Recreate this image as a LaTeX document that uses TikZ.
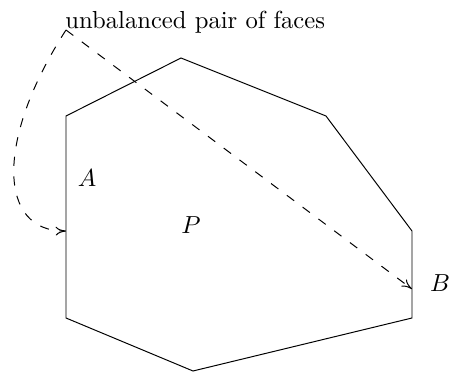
\documentclass[tikz,border=0pt]{standalone}
\usetikzlibrary{arrows.meta}
\begin{document}
\begin{tikzpicture}[x=0.406pt,y=-0.406pt,
  face/.style={draw,line width=0.4pt},
  conn/.style={draw,dash pattern=on 3.7pt off 4.3pt,-{To[length=4.2pt,width=3.6pt]},line width=0.4pt},
  lbl/.style={inner sep=0pt}]
\useasboundingbox (0,0) rectangle (449,372);
\coordinate (v1) at (66,116);
\coordinate (v2) at (181,58);
\coordinate (v3) at (326,116);
\coordinate (v4) at (412,231);
\coordinate (v5) at (412,318);
\coordinate (v6) at (193,371);
\coordinate (v7) at (66,318);
\draw[face] (v1) -- (v2) -- (v3) -- (v4) -- (v5) -- (v6) -- (v7) -- cycle;
\coordinate (s) at (66,30);
\coordinate (ta) at (66,231);
\coordinate (tb) at (412,289);
\node[lbl,anchor=base west] (t) at (65,28) {unbalanced pair of faces};
\node[lbl] (A) at (87,178) {$A$};
\node[lbl] (P) at (191,225) {$P$};
\node[lbl] (B) at (440,283) {$B$};
\draw[conn] (s) -- (tb);
\draw[conn] (s) .. controls (-5,140) and (-2,232) .. (ta);
\end{tikzpicture}
\end{document}
